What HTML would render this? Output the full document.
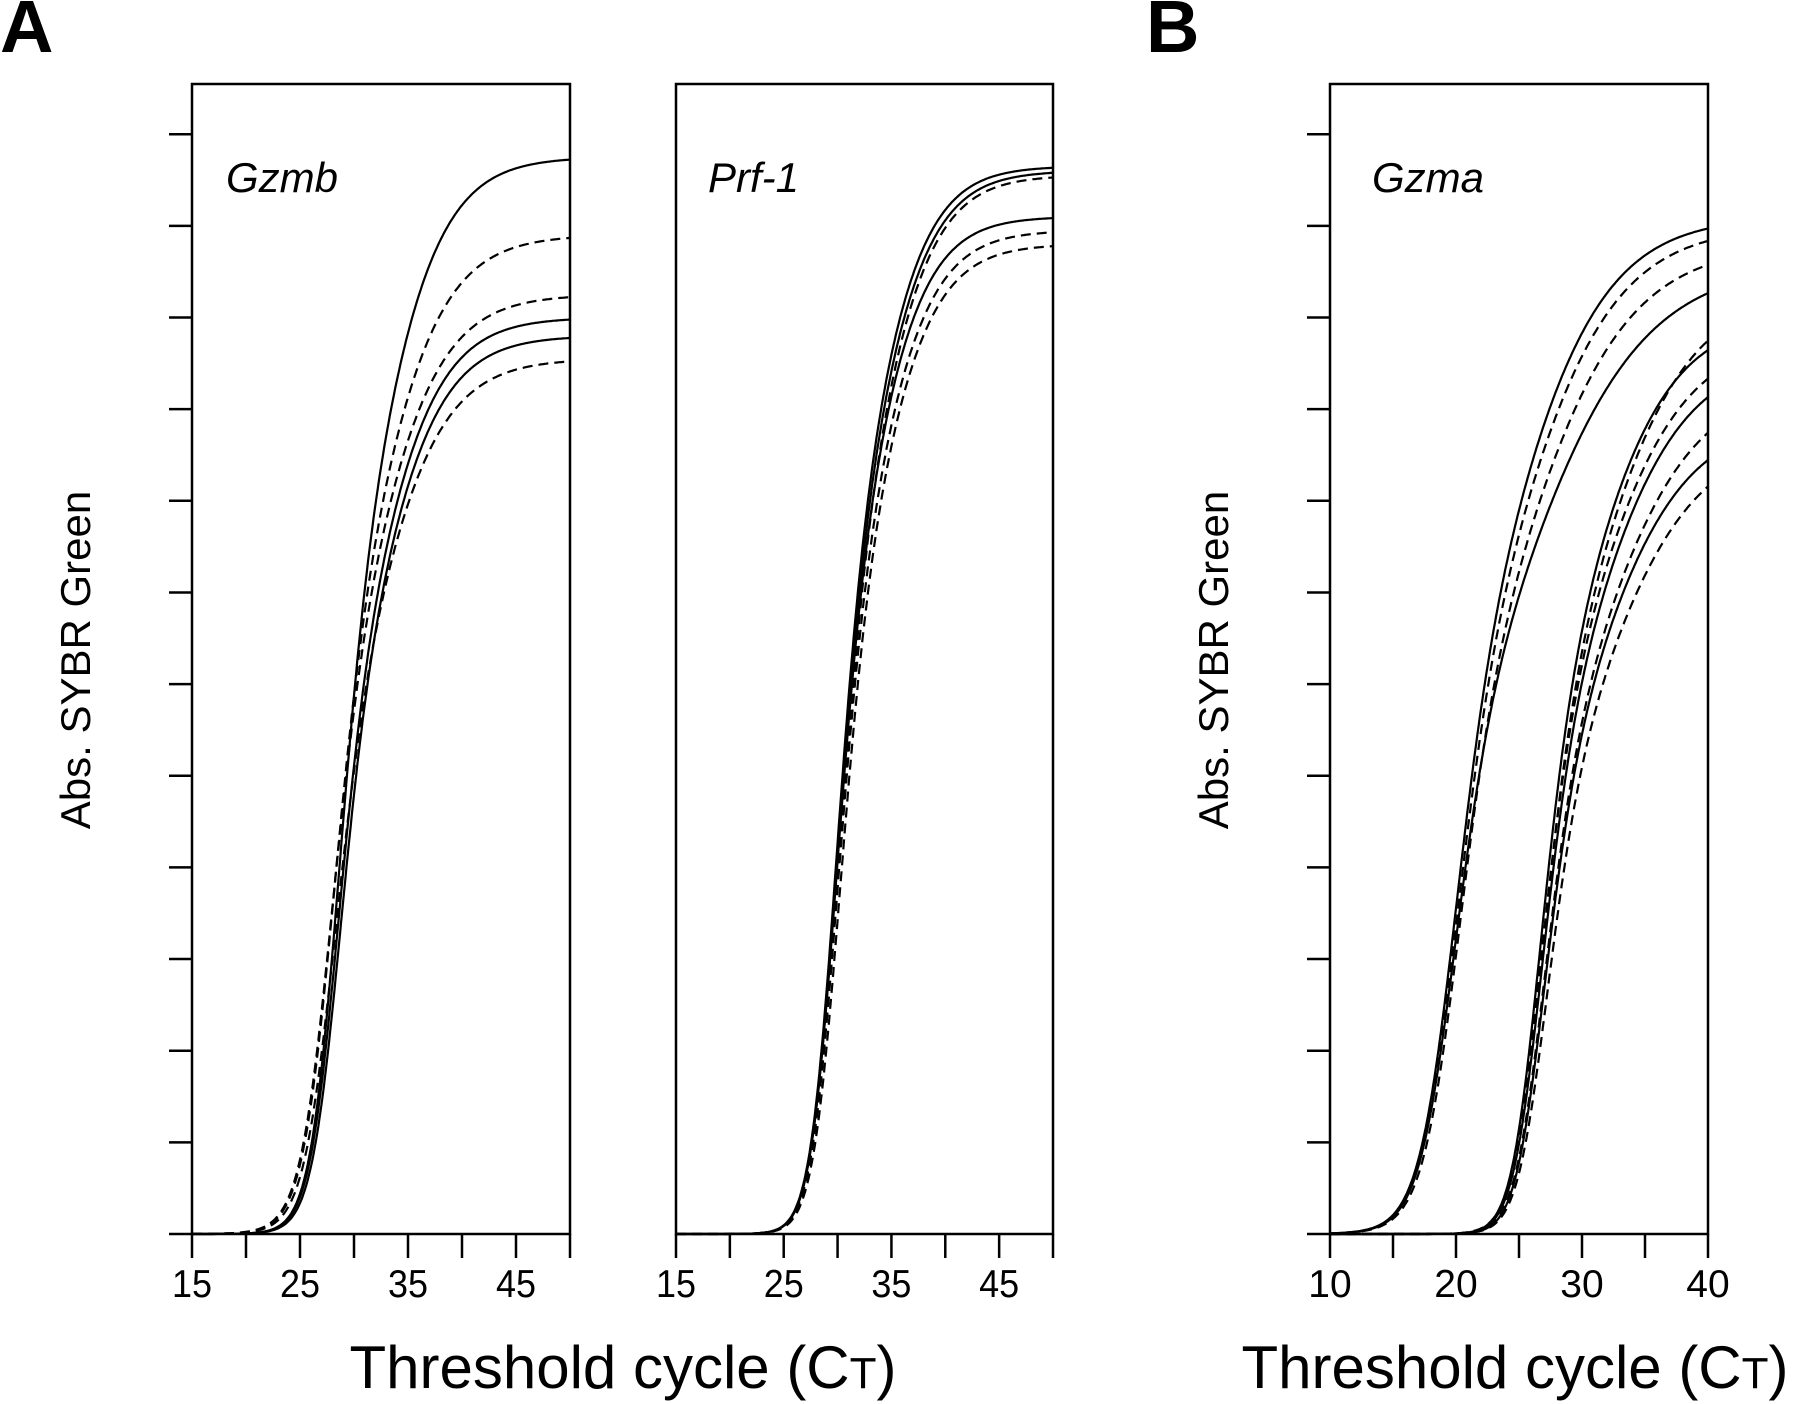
<!DOCTYPE html>
<html><head><meta charset="utf-8"><style>
html,body{margin:0;padding:0;background:#fff}
svg{display:block}
text{font-family:"Liberation Sans",sans-serif;fill:#000}
</style></head><body>
<svg id="chart" width="1800" height="1404" viewBox="0 0 1800 1404" xmlns="http://www.w3.org/2000/svg">
<text x="0" y="52" font-size="74" font-weight="bold">A</text>
<text x="1146" y="52" font-size="74" font-weight="bold">B</text>
<text transform="translate(90,660) rotate(-90)" text-anchor="middle" font-size="42">Abs. SYBR Green</text>
<text transform="translate(1228,660) rotate(-90)" text-anchor="middle" font-size="42">Abs. SYBR Green</text>
<text x="623" y="1388" text-anchor="middle" font-size="60">Threshold cycle (C<tspan font-size="44">T</tspan>)</text>
<text x="1515" y="1388" text-anchor="middle" font-size="60">Threshold cycle (C<tspan font-size="44">T</tspan>)</text>
<g id="plots"></g>
</svg>
<script>
// Gzmb curves: plateau, midpoint cycle, lower/upper steepness, dashed flag
const gzmbPlateau = [11.75, 10.9, 10.25, 10.0, 9.8, 9.55];
const gzmbMid = [30.0, 29.6, 29.4, 29.9, 30.1, 29.7];
const gzmbKLow = [1.3, 1.5, 1.5, 1.3, 1.3, 1.5];
const gzmbKHigh = [3.3, 3.5, 3.5, 3.3, 3.3, 3.5];
const gzmbDashed = [0, 1, 1, 0, 0, 1];

const prfPlateau = [11.65, 11.6, 11.55, 11.1, 10.95, 10.8];
const prfMid = [31.0, 31.1, 31.3, 31.0, 31.2, 31.4];
const prfKLow = [1.1, 1.1, 1.15, 1.1, 1.15, 1.15];
const prfKHigh = [2.9, 3.0, 3.0, 2.9, 3.0, 3.0];
const prfDashed = [0, 0, 1, 0, 1, 1];

const gzmaPlateau = [11.1, 11.0, 10.8, 10.6, 10.3, 10.0, 9.8, 9.6, 9.3, 8.9, 8.7];
const gzmaMid = [21.8, 22.0, 22.3, 22.2, 28.6, 28.2, 28.4, 28.5, 28.8, 28.7, 29.0];
const gzmaKLow = [1.56, 1.6, 1.6, 1.6, 1.1, 1.0, 1.05, 1.05, 1.1, 1.05, 1.1];
const gzmaKHigh = [4.1, 4.3, 4.6, 5.2, 4.0, 3.6, 3.9, 3.9, 4.1, 3.9, 4.1];
const gzmaDashed = [0, 1, 1, 0, 1, 0, 1, 0, 1, 0, 1];

const yTicks = [0,1,2,3,4,5,6,7,8,9,10,11,12];
const xTicksA = [15,20,25,30,35,40,45,50];
const xLabelsA = [15,25,35,45];
const xTicksB = [10,15,20,25,30,35,40];
const xLabelsB = [10,20,30,40];

const NS = "http://www.w3.org/2000/svg";
const root = document.getElementById('plots');
const Y0 = 1234, TOP = 84, UNIT = 91.65;
function yS(v){ return Y0 - v*UNIT; }
function mk(tag, attrs, parent){
  const e = document.createElementNS(NS, tag);
  for (const k in attrs) e.setAttribute(k, attrs[k]);
  (parent||root).appendChild(e);
  return e;
}
function curveVal(x, P, c, k1, k2){
  const s = 1/(1+Math.exp(-(x-c)/2.5));
  const k = k1 + (k2-k1)*s;
  return P/(1+Math.exp(-(x-c)/k));
}
function panel(name, x0, x1, xmin, xmax, ticks, labels, showY, gene, geneX, P, C, K1, K2, D, condensed){
  const g = mk('g', {});
  
  
  const xS = v => x0 + (v-xmin)/(xmax-xmin)*(x1-x0);
  const frame = mk('rect', {x:x0, y:TOP, width:x1-x0, height:Y0-TOP, fill:'none', stroke:'#000', 'stroke-width':2.5}, g);
  
  
  if (showY){
    yTicks.forEach(t => {
      const l = mk('line', {x1:x0-23, x2:x0, y1:yS(t), y2:yS(t), stroke:'#000', 'stroke-width':2.5}, g);
      
      
    });
  }
  ticks.forEach(t => {
    const l = mk('line', {x1:xS(t), x2:xS(t), y1:Y0, y2:Y0+24, stroke:'#000', 'stroke-width':2.5}, g);
    
    
  });
  labels.forEach(t => {
    const tx = mk('text', {x:xS(t), y:1297, 'text-anchor':'middle', 'font-size':39}, g);
    if (condensed) { tx.setAttribute('textLength', 40); tx.setAttribute('lengthAdjust', 'spacingAndGlyphs'); }
    tx.textContent = t;
    
    
  });
  const gl = mk('text', {x:geneX, y:192, 'font-size':42, 'font-style':'italic'}, g);
  gl.textContent = gene;
  
  
  for (let i=0;i<P.length;i++){
    let d = '';
    for (let x=xmin; x<=xmax+1e-9; x+=0.1){
      const v = curveVal(x, P[i], C[i], K1[i], K2[i]);
      d += (d?'L':'M') + xS(x).toFixed(1) + ',' + yS(v).toFixed(1);
    }
    const p = mk('path', {d:d, fill:'none', stroke:'#000', 'stroke-width':2.2}, g);
    if (D[i]) p.setAttribute('stroke-dasharray', '10 6');
    
    
  }
}
panel('gzmb-panel', 192, 570, 15, 50, xTicksA, xLabelsA, true, 'Gzmb', 226, gzmbPlateau, gzmbMid, gzmbKLow, gzmbKHigh, gzmbDashed, true);
panel('prf1-panel', 676, 1053, 15, 50, xTicksA, xLabelsA, false, 'Prf-1', 708, prfPlateau, prfMid, prfKLow, prfKHigh, prfDashed, true);
panel('gzma-panel', 1330, 1708, 10, 40, xTicksB, xLabelsB, true, 'Gzma', 1372, gzmaPlateau, gzmaMid, gzmaKLow, gzmaKHigh, gzmaDashed, false);
</script>
</body></html>
